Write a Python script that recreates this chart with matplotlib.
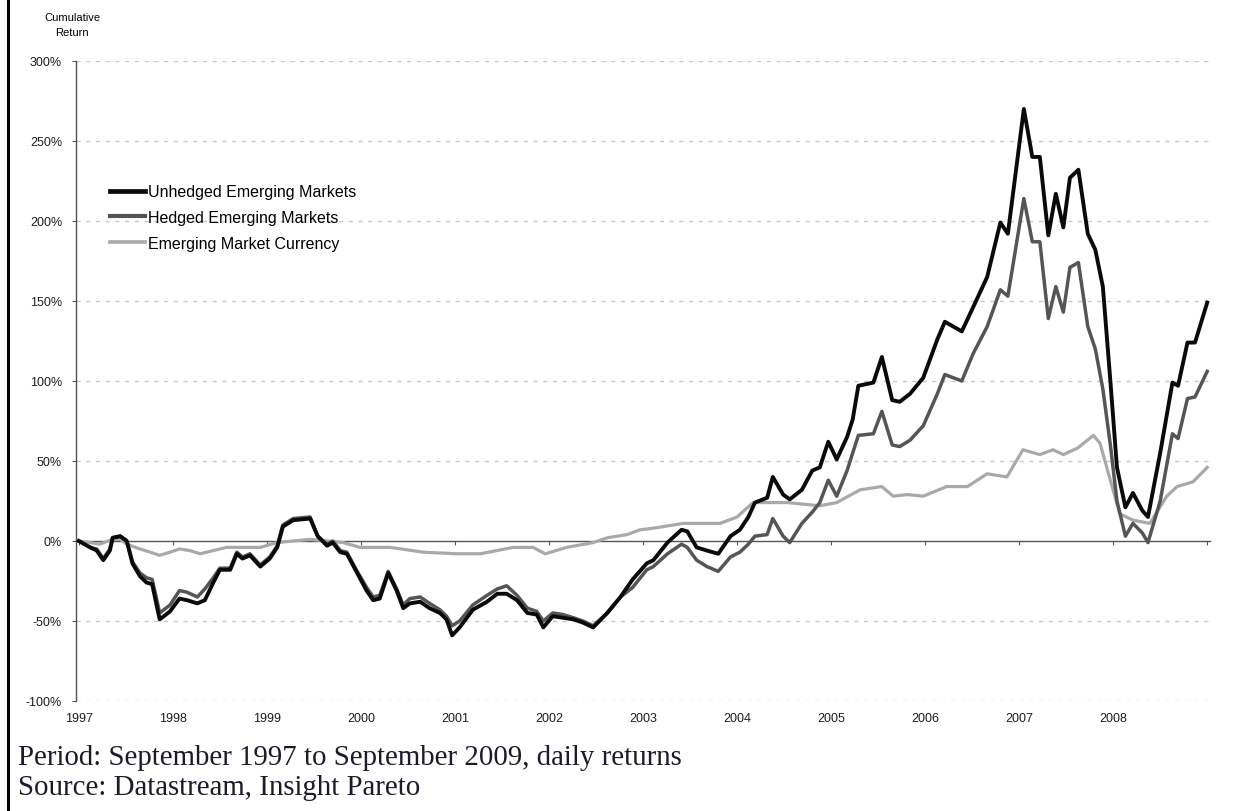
import numpy as np
import matplotlib
matplotlib.use("Agg")
import matplotlib.pyplot as plt
from matplotlib.lines import Line2D

# years since September 1997 (vertices of the equity series)
eq_years = [0.0, 0.12, 0.19, 0.26, 0.33, 0.36, 0.44, 0.51, 0.57, 0.65, 0.72, 0.78, 0.83, 0.86,
            0.97, 1.07, 1.15, 1.26, 1.34, 1.43, 1.50, 1.61, 1.68, 1.74, 1.82, 1.93, 2.03, 2.11,
            2.17, 2.28, 2.46, 2.54, 2.64, 2.70, 2.78, 2.85, 2.96, 3.06, 3.13, 3.20, 3.29, 3.38,
            3.45, 3.52, 3.63, 3.73, 3.84, 3.91, 3.97, 4.05, 4.19, 4.34, 4.45, 4.55, 4.66, 4.77,
            4.87, 4.94, 5.04, 5.15, 5.26, 5.36, 5.47, 5.62, 5.76, 5.89, 6.04, 6.11, 6.26, 6.41,
            6.47, 6.57, 6.68, 6.80, 6.93, 7.03, 7.12, 7.19, 7.32, 7.38, 7.49, 7.56, 7.69, 7.80,
            7.88, 7.97, 8.06, 8.17, 8.23, 8.29, 8.45, 8.54, 8.65, 8.73, 8.84, 8.98, 9.13, 9.21,
            9.39, 9.51, 9.66, 9.80, 9.88, 10.05, 10.14, 10.22, 10.31, 10.39, 10.47, 10.54, 10.63,
            10.73, 10.81, 10.89, 10.97, 11.04, 11.13, 11.21, 11.31, 11.37, 11.50, 11.63, 11.69,
            11.79, 11.87, 12.0]

unhedged = [0, -4, -6, -12, -6, 2, 3, 0, -14, -22, -26, -27, -41, -49,
            -44, -36, -37, -39, -37, -26, -18, -18, -8, -11, -9, -16, -11, -4,
            9, 13, 14, 3, -3, -1, -7, -8, -20, -31, -37, -36, -20, -31,
            -42, -39, -38, -42, -45, -49, -59, -54, -43, -38, -33, -33, -37, -45,
            -46, -54, -47, -48, -49, -51, -54, -45, -35, -24, -14, -12, -1, 7,
            6, -4, -6, -8, 3, 7, 15, 24, 27, 40, 29, 26, 32, 44,
            46, 62, 51, 65, 76, 97, 99, 115, 88, 87, 92, 102, 126, 137,
            131, 146, 165, 199, 192, 270, 240, 240, 191, 217, 196, 227, 232,
            192, 182, 159, 100, 46, 21, 30, 19, 15, 55, 99, 97,
            124, 124, 149]

hedged = [0, -4, -5, -11, -5, 2, 3, 0, -13, -20, -23, -24, -37, -45,
          -40, -31, -32, -35, -30, -23, -17, -17, -7, -10, -8, -15, -10, -3,
          10, 14, 15, 3, -2, 0, -6, -7, -19, -29, -35, -34, -19, -30,
          -40, -36, -35, -39, -43, -47, -53, -50, -40, -34, -30, -28, -34, -42,
          -44, -50, -45, -46, -48, -50, -53, -45, -35, -29, -18, -16, -8, -2,
          -4, -12, -16, -19, -10, -7, -2, 3, 4, 14, 3, -1, 11, 18,
          24, 38, 28, 44, 55, 66, 67, 81, 60, 59, 63, 72, 92, 104,
          100, 117, 134, 157, 153, 214, 187, 187, 139, 159, 143, 171, 174,
          134, 120, 95, 60, 25, 3, 11, 5, -1, 25, 67, 64,
          89, 90, 106]

fx_years = [0.0, 0.12, 0.22, 0.36, 0.44, 0.51, 0.65, 0.76, 0.86, 0.97, 1.07, 1.18, 1.29, 1.36,
            1.57, 1.74, 1.93, 2.11, 2.28, 2.46, 2.64, 2.81, 2.99, 3.31, 3.66, 4.02, 4.27, 4.62,
            4.83, 4.96, 5.19, 5.47, 5.62, 5.83, 5.97, 6.11, 6.43, 6.82, 7.0, 7.17, 7.53, 7.88,
            8.06, 8.31, 8.54, 8.66, 8.81, 8.98, 9.23, 9.45, 9.66, 9.87, 10.04, 10.22, 10.36,
            10.47, 10.62, 10.79, 10.86, 11.07, 11.21, 11.39, 11.57, 11.68, 11.85, 12.0]

currency = [0, -1, -2, 1, 1, -2, -5, -7, -9, -7, -5, -6, -8, -7,
            -4, -4, -4, -1, 0, 1, 0, -1, -4, -4, -7, -8, -8, -4,
            -4, -8, -4, -1, 2, 4, 7, 8, 11, 11, 15, 24, 24, 22,
            24, 32, 34, 28, 29, 28, 34, 34, 42, 40, 57, 54, 57,
            54, 58, 66, 61, 17, 13, 11, 28, 34, 37, 46]

year_labels = ["1997", "1998", "1999", "2000", "2001", "2002", "2003",
               "2004", "2005", "2006", "2007", "2008"]
y_ticks = [-100, -50, 0, 50, 100, 150, 200, 250, 300]

plt.rcParams["font.family"] = ["Liberation Sans", "DejaVu Sans"]

fig = plt.figure(figsize=(12.44, 8.12), dpi=100)
ax = fig.add_axes([0.0611, 0.1355, 0.9116, 0.7882])

for y in y_ticks:
    if y == 0:
        continue
    ax.axhline(y, color="#c8c8c8", lw=1.0, ls=(0, (3, 4)), zorder=1)

ax.plot(fx_years, currency, color="#a9a9a9", lw=2.3, zorder=3,
        label="Emerging Market Currency")
ax.plot(eq_years, hedged, color="#555555", lw=2.5, zorder=4,
        label="Hedged Emerging Markets")
ax.plot(eq_years, unhedged, color="#0a0a0a", lw=2.8, zorder=5,
        label="Unhedged Emerging Markets")

ax.set_xlim(-0.03, 12.03)
ax.set_ylim(-100, 300)

# zero line acts as the x axis
for s in ["top", "right"]:
    ax.spines[s].set_visible(False)
ax.spines["bottom"].set_position(("data", 0))
ax.spines["bottom"].set_color("#555555")
ax.spines["bottom"].set_linewidth(1.0)
ax.spines["left"].set_color("#555555")
ax.spines["left"].set_linewidth(1.0)
ax.set_xticks(np.arange(13))
ax.tick_params(axis="x", length=3, color="#555555", labelbottom=False)

sec = ax.secondary_xaxis(0.0)
sec.set_xticks(np.arange(len(year_labels)), labels=year_labels)
sec.spines["bottom"].set_visible(False)
sec.tick_params(length=0, pad=8, labelsize=9, labelcolor="#1e1e1e")

ax.set_yticks(y_ticks, labels=[f"{v}%" for v in y_ticks])
ax.tick_params(axis="y", length=3, color="#555555", pad=7, labelsize=9,
               labelcolor="#1e1e1e")

handles, labels = ax.get_legend_handles_labels()
order = [2, 1, 0]
leg = ax.legend([handles[i] for i in order], [labels[i] for i in order],
                loc="upper left", bbox_to_anchor=(0.03, 0.807), frameon=False,
                fontsize=11.5, handlelength=2.2, handletextpad=0.15,
                labelspacing=0.66, borderpad=0, borderaxespad=0)
for line, w in zip(leg.get_lines(), [3.4, 3.0, 2.6]):
    line.set_linewidth(w)

fig.text(0.058, 0.978, "Cumulative", ha="center", va="center", fontsize=8)
fig.text(0.058, 0.959, "Return", ha="center", va="center", fontsize=8)

fig.text(0.0145, 0.066, "Period: September 1997 to September 2009, daily returns",
         family="Liberation Serif", fontsize=20.8, color="#1b1b2b", va="center")
fig.text(0.0145, 0.029, "Source: Datastream, Insight Pareto",
         family="Liberation Serif", fontsize=20.8, color="#1b1b2b", va="center")

fig.add_artist(Line2D([0.0068, 0.0068], [0, 1], transform=fig.transFigure,
                      color="black", lw=2.2))

fig.savefig("out.png", dpi=100)
